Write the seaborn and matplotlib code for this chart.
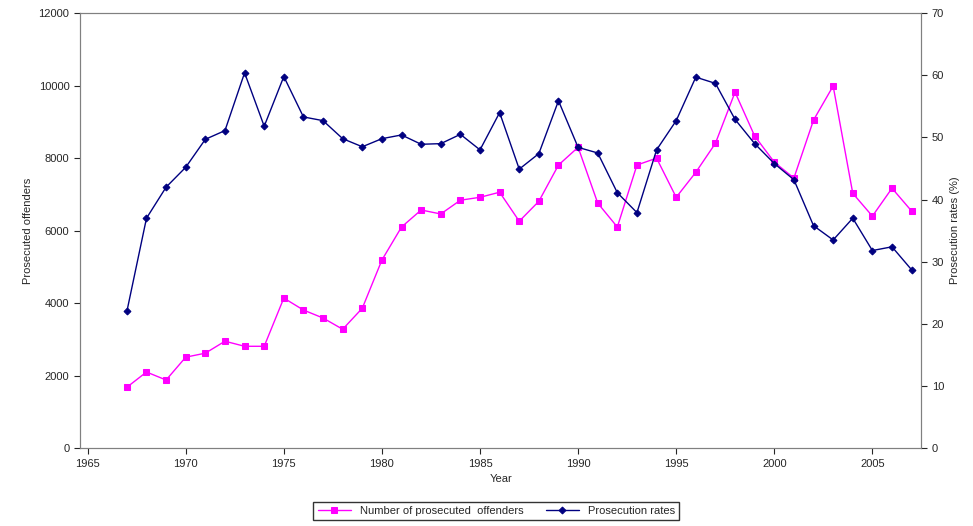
import seaborn as sns
import pandas as pd
import matplotlib.pyplot as plt

years = list(range(1967, 2008))
offenders = [1680, 2100, 1880, 2510, 2620, 2950, 2810, 2810, 4140, 3810,
             3590, 3280, 3860, 5190, 6100, 6570, 6460, 6840, 6920, 7060,
             6260, 6810, 7810, 8300, 6760, 6100, 7810, 8000, 6920, 7610,
             8410, 9820, 8610, 7890, 7450, 9050, 9990, 7030, 6400, 7170, 6540]
rates = [22.0, 37.0, 42.0, 45.2, 49.7, 51.1, 60.4, 51.8, 59.8, 53.3,
         52.7, 49.8, 48.5, 49.8, 50.4, 48.9, 49.0, 50.5, 48.0, 54.0,
         44.9, 47.4, 55.9, 48.4, 47.5, 41.1, 37.9, 48.0, 52.7, 59.7,
         58.7, 52.9, 49.0, 45.8, 43.2, 35.8, 33.5, 37.0, 31.8, 32.4, 28.7]

df = pd.DataFrame({"year": years, "offenders": offenders, "rate": rates})

sns.set_style("ticks")
plt.rcParams['font.family'] = ['Liberation Sans', 'DejaVu Sans']
plt.rcParams['font.size'] = 8

fig, ax = plt.subplots(figsize=(9.73, 5.26), dpi=100)
fig.subplots_adjust(left=0.082, right=0.947, top=0.975, bottom=0.148)
ax2 = ax.twinx()

sns.lineplot(data=df, x="year", y="offenders", ax=ax, color="#ff00ff", marker="s",
             markersize=5, markeredgecolor="#ff00ff", linewidth=1, label="Number of prosecuted  offenders", legend=False)
sns.lineplot(data=df, x="year", y="rate", ax=ax2, color="#000080", marker="D",
             markersize=3.5, markeredgecolor="#000080", linewidth=1, label="Prosecution rates", legend=False)

ax.set_xlim(1964.6, 2007.5)
ax.set_ylim(0, 12000)
ax2.set_ylim(0, 70)
ax.set_xticks(range(1965, 2010, 5))
ax.set_yticks(range(0, 12001, 2000))
ax2.set_yticks(range(0, 71, 10))
ax.set_xlabel("Year", fontsize=8)
ax.set_ylabel("Prosecuted offenders", fontsize=8)
ax2.set_ylabel("Prosecution rates (%)", fontsize=8)
for a in (ax, ax2):
    a.tick_params(labelsize=8, direction="out", length=4)
    for s in a.spines.values():
        s.set_color("#808080")

h1, l1 = ax.get_legend_handles_labels()
h2, l2 = ax2.get_legend_handles_labels()
fig.legend(h1 + h2, l1 + l2, loc="lower center", ncol=2, bbox_to_anchor=(0.51, 0.0),
           fontsize=8, frameon=True, fancybox=False, edgecolor="black", handlelength=3)

plt.savefig("out.png", dpi=100)
